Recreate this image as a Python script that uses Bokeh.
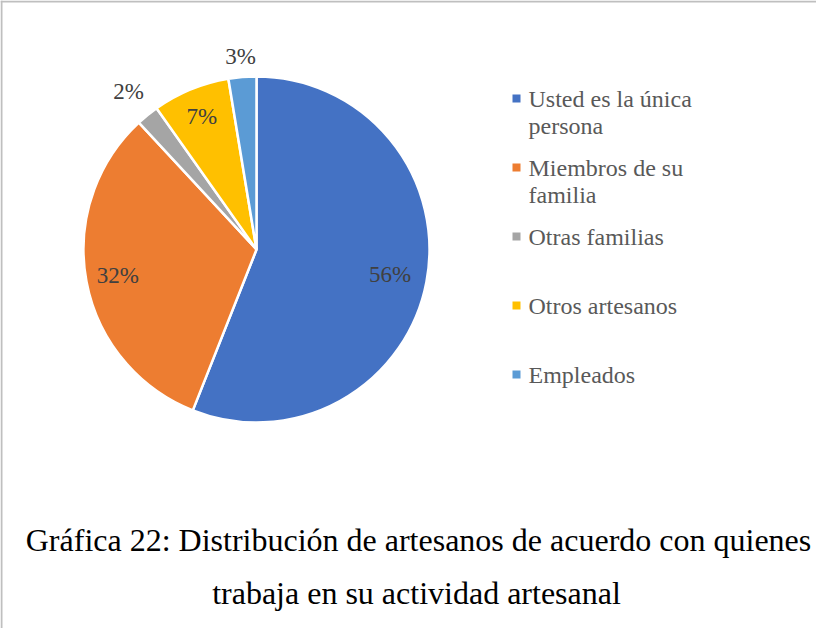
import math
import textwrap
from bokeh.plotting import figure
from bokeh.models import Span, ColumnDataSource
from bokeh.core.properties import value
from bokeh.embed import file_html
from bokeh.resources import INLINE

# ---- data ----
categories = ["Usted es la única persona", "Miembros de su familia",
              "Otras familias", "Otros artesanos", "Empleados"]
shares = [56.0, 32.1, 2.1, 7.2, 2.6]
colors = ["#4472C4", "#ED7D31", "#A5A5A5", "#FFC000", "#5B9BD5"]
title_lines = ["Gráfica 22: Distribución de artesanos de acuerdo con quienes",
               "trabaja en su actividad artesanal"]

# ---- layout (pixel units; figure 816x628) ----
W, H = 816, 628
CX, CY, R = 256, 379, 173
label_radius = [136, 141, 203, 144, 194]
FONT = "Liberation Serif"

p = figure(width=W, height=H, x_range=(0, W), y_range=(0, H),
           output_backend="svg", toolbar_location=None, min_border=0)
p.axis.visible = False
p.grid.visible = False
p.outline_line_color = None
p.background_fill_color = "white"

total = sum(shares)
starts, ends, lx, ly, labels = [], [], [], [], []
cum = 0.0
for i, v in enumerate(shares):
    a0 = cum / total
    cum += v
    a1 = cum / total
    starts.append(math.pi / 2 - 2 * math.pi * a1)
    ends.append(math.pi / 2 - 2 * math.pi * a0)
    mid = math.pi / 2 - 2 * math.pi * (a0 + a1) / 2
    lx.append(CX + label_radius[i] * math.cos(mid))
    ly.append(CY + label_radius[i] * math.sin(mid))
    labels.append(f"{round(v)}%")

src = ColumnDataSource(dict(start=starts, end=ends, color=colors))
p.wedge(x=CX, y=CY, radius=R, start_angle="start", end_angle="end",
        direction="anticlock", fill_color="color", line_color="white",
        line_width=2.5, source=src)

p.text(x=lx, y=ly, text=labels, text_font=value(FONT), text_font_size="23px",
       text_color="#404040", text_align="center", text_baseline="middle")

# legend
lgx, lgy, slot, line_h = 516, 530, 69, 27
sq_x, sq_y, tx, ty, tt = [], [], [], [], []
for i, c in enumerate(categories):
    y0 = lgy - i * slot
    sq_x.append(lgx)
    sq_y.append(y0)
    for j, ln in enumerate(textwrap.wrap(c, width=17)):
        tx.append(lgx + 12)
        ty.append(y0 - j * line_h)
        tt.append(ln)
p.rect(x=sq_x, y=sq_y, width=8, height=8, fill_color=colors, line_color=None)
p.text(x=tx, y=ty, text=tt, text_font=value(FONT), text_font_size="24px",
       text_color="#595959", text_align="left", text_baseline="middle")

# caption
p.text(x=[418, 416], y=[89, 36], text=title_lines, text_font=value(FONT),
       text_font_size="32px", text_color="#000000", text_align="center",
       text_baseline="middle")

# frame lines (top and left)
p.add_layout(Span(location=H - 1, dimension="width", line_color="#BFBFBF", line_width=2))
p.add_layout(Span(location=1, dimension="height", line_color="#BFBFBF", line_width=2))

open("out.html", "w").write(file_html(p, INLINE))
